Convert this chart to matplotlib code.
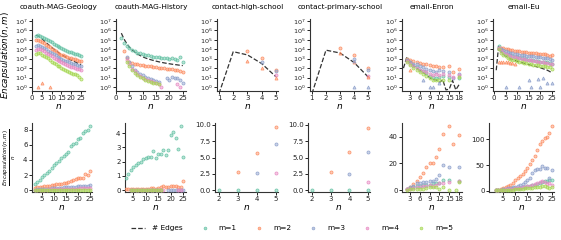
import numpy as np
import matplotlib
matplotlib.use("Agg")
import matplotlib.pyplot as plt
from matplotlib.lines import Line2D
from matplotlib.colors import to_rgba

nan = np.nan
COLORS = ['#66c2a5', '#fc8d62', '#8da0cb', '#e78ac3', '#a6d854']
titles = ["coauth-MAG-Geology", "coauth-MAG-History", "contact-high-school",
          "contact-primary-school", "email-Enron", "email-Eu"]
legend_labels = ["# Edges", "m=1", "m=2", "m=3", "m=4", "m=5"]

# ---------------- coauth-MAG-Geology ----------------
geo_n = list(range(2, 26))
geo_edges = [3e5, 2.6e5, 1.9e5, 1.3e5, 8.5e4, 5.5e4, 3.6e4, 2.4e4, 1.6e4, 1.1e4, 7.5e3, 5.2e3,
             3.7e3, 2.7e3, 2e3, 1.5e3, 1.15e3, 900, 700, 560, 450, 360, 290, 240]
geo_top = [
    [2.4e5, 2.9e5, 2.7e5, 2.2e5, 1.7e5, 1.27e5, 9.4e4, 7.1e4, 5.3e4, 4e4, 2.9e4, 2.2e4,
     1.7e4, 1.3e4, 1e4, 8.8e3, 7e3, 5.7e3, 4.7e3, 3.8e3, 3.4e3, 2.8e3, 2.3e3, 2e3],
    [9e4, 9.1e4, 7.6e4, 5.9e4, 4.3e4, 3e4, 2.2e4, 1.6e4, 1.1e4, 8.3e3, 6e3, 4.4e3,
     3.5e3, 2.7e3, 2.2e3, 1.8e3, 1.5e3, 1.3e3, 1.1e3, 870, 990, 700, 600, 600],
    [2.4e4, 2.6e4, 2.3e4, 1.8e4, 1.4e4, 9.9e3, 7.2e3, 5.3e3, 4e3, 3e3, 2.25e3, 1.66e3,
     1.3e3, 1.03e3, 800, 630, 520, 420, 350, 280, 250, 216, 174, 168],
    [9e3, 1e4, 9.5e3, 7.8e3, 6e3, 4.4e3, 3.2e3, 2.4e3, 1.8e3, 1.3e3, 980, 730,
     555, 430, 340, 270, 220, 180, 147, 123, 104, 86, 73, 60],
    [3e3, 3.9e3, 3.8e3, 2.6e3, 2.1e3, 1.4e3, 1.1e3, 720, 480, 385, 260, 180,
     150, 108, 80, 60, 52, 40, 32, 25, 22, 18, 12, 7],
]
geo_bot = [
    [0.8, 1.1, 1.4, 1.7, 2.0, 2.3, 2.6, 2.95, 3.3, 3.6, 3.9, 4.25, 4.55, 4.85, 5.0, 5.85,
     6.05, 6.3, 6.75, 6.85, 7.55, 7.9, 7.95, 8.5],
    [0.3, 0.35, 0.4, 0.45, 0.5, 0.55, 0.6, 0.65, 0.7, 0.75, 0.8, 0.85, 0.95, 1.0, 1.1, 1.2,
     1.3, 1.45, 1.55, 1.6, 1.55, 2.2, 1.95, 2.5],
    [0.08, 0.1, 0.12, 0.14, 0.16, 0.18, 0.2, 0.22, 0.25, 0.27, 0.3, 0.32, 0.35, 0.38, 0.4,
     0.42, 0.45, 0.47, 0.5, 0.5, 0.55, 0.6, 0.6, 0.7],
    [0.03, 0.04, 0.05, 0.06, 0.07, 0.08, 0.09, 0.1, 0.11, 0.12, 0.13, 0.14, 0.15, 0.16, 0.17,
     0.18, 0.19, 0.2, 0.21, 0.22, 0.23, 0.24, 0.25, 0.25],
    [0.01, 0.015, 0.02, 0.02, 0.025, 0.025, 0.03, 0.03, 0.03, 0.035, 0.035, 0.035, 0.04, 0.04,
     0.04, 0.04, 0.045, 0.045, 0.045, 0.045, 0.05, 0.05, 0.05, 0.03],
]
geo_extra_n = [3, 5, 9]
geo_extra_m = [2, 2, 2]
geo_extra_v = [1, 2.5, 1]

# ---------------- coauth-MAG-History ----------------
his_n = list(range(2, 26))
his_edges = [5e5, 1.2e5, 4e4, 1.7e4, 8.5e3, 5e3, 3.2e3, 2.2e3, 1.6e3, 1.2e3, 950, 780,
             650, 550, 470, 410, 360, 320, 290, 260, 240, 220, 200, 185]
his_top = [
    [1.6e5, 5e4, 2.2e4, 1.3e4, 8e3, 6e3, 4.5e3, 3.6e3, 3e3, 2.6e3, 2.2e3, 2e3, 1.7e3, 1.5e3,
     1.4e3, 1.3e3, 1.2e3, 1.1e3, 1e3, 1.1e3, 900, 700, 1.5e3, 400],
    [nan, 6e3, 1.2e3, 450, 350, 300, 250, 220, 200, 180, 160, 150, 140, 130, 110, 100, 95,
     90, 80, 75, 70, 60, 50, 35],
    [nan, nan, 1.5e3, 400, 150, 70, 40, 25, 17, 12, 9, 7, 5.5, 4.5, 3.5, nan, nan, 10, 6,
     12, 8, 9, 5, 3],
    [nan, nan, 800, 250, 90, 45, 25, 15, 10, 7, 5, 4, 3.2, 2.5, 2, 1, nan, nan, nan, nan,
     nan, 2, 1, nan],
    [nan, nan, 500, 150, 60, 30, 18, 12, 8, 6, 4.5, 3.5, 3, 2.5, 2, nan, nan, nan, nan, nan,
     nan, nan, nan, nan],
]
his_bot = [
    [0.84, 1.15, 1.4, 1.6, 1.8, 1.9, 2.0, 2.2, 2.25, 2.35, 2.3, 2.75, 2.25, 2.5, 2.5, 2.8,
     2.45, 2.8, 3.85, 4.1, 3.65, 2.9, 4.5, 2.35],
    [0.12, 0.1, 0.1, 0.1, 0.1, 0.1, 0.1, 0.12, 0.12, 0.12, 0.15, 0.15, 0.12, 0.15, 0.2, 0.3,
     0.25, 0.25, 0.3, 0.3, 0.3, 0.25, 0.2, 0.65],
    [nan, nan, 0.05, 0.04, 0.03, 0.03, 0.02, 0.02, 0.02, 0.02, 0.02, 0.02, 0.02, 0.02, 0.02,
     nan, nan, 0.04, 0.03, 0.05, 0.04, 0.05, 0.03, 0.02],
    [nan, nan, 0.03, 0.02, 0.02, 0.02, 0.01, 0.01, 0.01, 0.01, 0.01, 0.01, 0.01, 0.01, 0.01,
     0.01, nan, nan, nan, nan, nan, 0.01, 0.01, nan],
    [nan, nan, 0.02, 0.01, 0.01, 0.01, 0.01, 0.01, 0.01, 0.01, 0.01, 0.01, 0.01, 0.01, 0.01,
     nan, nan, nan, nan, nan, nan, nan, nan, nan],
]
his_extra_n = []
his_extra_m = []
his_extra_v = []

# ---------------- contact-high-school ----------------
chs_edge_n = [1, 2, 3, 4, 5]
chs_edges = [0.2, 5.5e3, 2.5e3, 300, 12]
chs_n = [2, 3, 4, 5]
chs_top = [
    [nan, nan, nan, nan],
    [nan, 6e3, 1.2e3, 70],
    [nan, nan, 500, 50],
    [nan, nan, nan, 20],
    [nan, nan, nan, nan],
]
chs_bot = [
    [0, 0, 0, 0],
    [nan, 2.8, 5.75, 9.7],
    [nan, nan, 2.65, 7.1],
    [nan, nan, nan, 2.65],
    [nan, nan, nan, nan],
]
chs_extra_n = [3, 4, 5]
chs_extra_m = [2, 2, 2]
chs_extra_v = [600, 100, 9]

# ---------------- contact-primary-school ----------------
cps_edge_n = [1, 2, 3, 4, 5]
cps_edges = [0.2, 8e3, 4e3, 400, 12]
cps_n = [2, 3, 4, 5]
cps_top = [
    [nan, nan, nan, nan],
    [nan, 1.5e4, 2.5e3, 100],
    [nan, nan, 900, 60],
    [nan, nan, nan, 14],
    [nan, nan, nan, nan],
]
cps_bot = [
    [0, 0, 0, 0],
    [nan, 2.8, 5.85, 9.5],
    [nan, nan, 2.45, 5.9],
    [nan, nan, nan, 1.2],
    [nan, nan, nan, nan],
]
cps_extra_n = [3, 4, 4, 4, 5, 5]
cps_extra_m = [2, 2, 3, 3, 3, 2]
cps_extra_v = [4e3, 500, 600, 1, 1, 12]

# ---------------- email-Enron ----------------
enr_edge_n = list(range(1, 19))
enr_edges = [100, 1.4e3, 400, 200, 100, 60, 35, 20, 10, 6, 6, 3, 6, 0.5, 0.6, 5, 0.5, 1.8]
enr_n = list(range(2, 19))
enr_top = [
    [1e3, 400, 200, 120, 70, 45, 30, 15, 12, 10, 12, 15, nan, 12, nan, nan, 10],
    [900, 800, 600, 450, 350, 300, 250, 200, 150, 180, 120, 130, nan, 150, 40, nan, 90],
    [800, 500, 300, 250, 180, 120, 90, 60, 45, 40, 60, 50, nan, 40, 10, nan, 25],
    [600, 300, 150, 100, 60, 45, 35, 25, 18, 22, 18, 25, nan, 20, 12, nan, 18],
    [500, 200, 100, 60, 40, 25, 15, 8, 5, 6, 6, 6, nan, 6, nan, nan, 12],
]
enr_bot = [
    [1, 1.5, 2, 3, 3, 3.5, 4, 4, 5, 5, 5, 7.5, nan, 7.5, nan, nan, 7],
    [1.0, 2.2, 4.5, 7.0, 10, 12.5, 17.5, 20, 20.5, 25, 30.5, 42, nan, 48, 34.5, nan, 41],
    [1, 2, 3, 5, 5, 6, 6, 7, 7, 8, 11, 18.5, nan, 17, nan, nan, 17.5],
    [0.5, 1, 1.5, 2, 2, 3, 3, 4, 3, 4, 5, 5, nan, 6, nan, nan, 7],
    [0.3, 0.5, 1, 1, 1, 1, 1.5, 2, 2, 2, 1, 2, nan, 0, nan, 0, 6],
]
enr_extra_n = [3, 7, 9, 10, 12]
enr_extra_m = [2, 3, 3, 3, 3]
enr_extra_v = [70, 6, 1, 1, 3]

# ---------------- email-Eu ----------------
eu_edge_n = list(range(1, 26))
eu_edges = [60, 2e4, 6e3, 3e3, 2e3, 1.4e3, 1e3, 800, 650, 550, 450, 380, 320, 280, 240, 200,
            170, 150, 130, 110, 90, 75, 60, 45, 30]
eu_n = list(range(2, 26))
eu_top = [
    [2e4, 8e3, 5e3, 3.5e3, 2.8e3, 2.2e3, 1.9e3, 1.6e3, 1.4e3, 1.2e3, 1.1e3, 1e3, 900, 800,
     750, 700, 600, 550, 500, 450, 450, 400, 350, 300],
    [1.5e4, 1.3e4, 1.2e4, 1.1e4, 1e4, 9e3, 8e3, 7e3, 6.5e3, 6e3, 5.5e3, 5e3, 4.8e3, 4.5e3,
     4.2e3, 4e3, 3.8e3, 3.5e3, 3.3e3, 3e3, 2.8e3, 2.5e3, 2e3, 2.2e3],
    [1.5e4, 1e4, 8e3, 6.5e3, 5.5e3, 4.5e3, 4e3, 3.5e3, 3e3, 2.7e3, 2.5e3, 2.3e3, 2.1e3, 2e3,
     1.9e3, 1.8e3, 1.6e3, 1.5e3, 1.4e3, 1.3e3, 1.2e3, 1.1e3, 1e3, 700],
    [1.2e4, 6e3, 4e3, 3e3, 2.3e3, 1.9e3, 1.6e3, 1.4e3, 1.2e3, 1.1e3, 1e3, 900, 800, 700,
     650, 600, 550, 500, 450, 400, 380, 350, 300, 250],
    [1e4, 4e3, 2.5e3, 1.8e3, 1.3e3, 1e3, 800, 650, 550, 480, 420, 380, 340, 300, 270, 240,
     220, 200, 180, 160, 150, 140, 130, 90],
]
eu_bot = [
    [1, 1.5, 2, 2.5, 3, 3.5, 4, 4.5, 5, 5.5, 6, 7, 8, 9, 10, 11, 12, 13, 15, 17, 18, 19, 20, 21],
    [1, 2, 3, 5, 7, 9, 12, 15, 20, 24, 28, 33, 38, 45, 52, 60, 67, 80, 90, 97, 103, 105, 112, 125],
    [1, 2, 2, 3, 4, 5, 6, 7, 8, 10, 12, 14, 16, 20, 25, 35, 41, 42, 43, 48, 44, 44, 25, 40],
    [0.5, 1, 1.5, 2, 2.5, 3, 3.5, 4, 4.5, 5, 6, 7, 8, 9, 10, 11, 13, 15, 17, 18, 16, 14, 15, 12],
    [0.5, 0.8, 1, 1.2, 1.5, 1.8, 2, 2.2, 2.5, 3, 3.5, 4, 4.5, 5, 5.5, 6, 7, 8, 8, 9, 9, 8, 5, 7],
]
eu_extra_n = [2, 3, 4, 5, 6, 7, 8, 9, 5, 11, 15, 16, 19, 20, 21, 23, 25]
eu_extra_m = [2, 2, 2, 2, 2, 2, 2, 2, 3, 3, 3, 3, 3, 3, 3, 3, 3]
eu_extra_v = [400, 500, 450, 400, 400, 350, 350, 300, 1, 1, 5, 1, 7, 1, 10, 3, 3]

datasets = [
    (geo_n, geo_n, geo_edges, geo_top, geo_bot, geo_extra_n, geo_extra_m, geo_extra_v),
    (his_n, his_n, his_edges, his_top, his_bot, his_extra_n, his_extra_m, his_extra_v),
    (chs_edge_n, chs_n, chs_edges, chs_top, chs_bot, chs_extra_n, chs_extra_m, chs_extra_v),
    (cps_edge_n, cps_n, cps_edges, cps_top, cps_bot, cps_extra_n, cps_extra_m, cps_extra_v),
    (enr_edge_n, enr_n, enr_edges, enr_top, enr_bot, enr_extra_n, enr_extra_m, enr_extra_v),
    (eu_edge_n, eu_n, eu_edges, eu_top, eu_bot, eu_extra_n, eu_extra_m, eu_extra_v),
]

# axis settings (per column)
top_xticks = [[0, 5, 10, 15, 20, 25], [0, 5, 10, 15, 20, 25], [1, 2, 3, 4, 5],
              [1, 2, 3, 4, 5], [3, 6, 9, 12, 15, 18], [0, 5, 10, 15, 20, 25]]
top_xlim = [(0, 27), (0, 26.2), (0.86, 5.14), (0.86, 5.14), (0.55, 18.9), (-0.4, 25.9)]
bot_xticks = [[5, 10, 15, 20, 25], [5, 10, 15, 20, 25], [2, 3, 4, 5], [2, 3, 4, 5],
              [3, 6, 9, 12, 15, 18], [5, 10, 15, 20, 25]]
bot_xlim = [(0.85, 25.8), (1.8, 26.2), (1.79, 5.1), (1.79, 5.1), (0.55, 18.9), (-0.8, 25.9)]
bot_yticks = [[0, 2, 4, 6, 8], [0, 1, 2, 3, 4], [0, 2.5, 5, 7.5, 10], [0, 2.5, 5, 7.5, 10],
              [0, 20, 40], [0, 50, 100]]
bot_ylim = [(-0.25, 8.9), (-0.12, 4.7), (-0.26, 10.3), (-0.26, 10.3), (-1.5, 50.3), (-2.5, 131.7)]

W, H = 561, 240
fig = plt.figure(figsize=(W / 100, H / 100), dpi=100)
top_left = [32, 116, 217, 310, 402, 493]
top_right = [85, 186, 278, 370, 462, 554]
bot_left = [32, 125, 215, 308, 402, 489]
bot_right = [92, 186, 278, 370, 462, 554]
top_y0, top_y1 = 19, 91
bot_y0, bot_y1 = 123, 192

TICK_FS = 5
TITLE_FS = 5.3

def style(ax):
    for s in ['top', 'right']:
        ax.spines[s].set_visible(False)
    for s in ['left', 'bottom']:
        ax.spines[s].set_linewidth(0.8)
        ax.spines[s].set_color('#333333')
    ax.tick_params(labelsize=TICK_FS, length=2, width=0.7, pad=1.2, colors='#222222')

def mk(ax, x, y, c, marker='o'):
    ax.plot(x, y, linestyle='none', marker=marker, ms=2.2, mfc=to_rgba(c, 0.45),
            mec=to_rgba(c, 0.9), mew=0.55, zorder=3)

for i, (en, pn, edges, top, bot, exn, exm, exv) in enumerate(datasets):
    axt = fig.add_axes([top_left[i] / W, (H - top_y1) / H, (top_right[i] - top_left[i]) / W,
                        (top_y1 - top_y0) / H])
    axb = fig.add_axes([bot_left[i] / W, (H - bot_y1) / H, (bot_right[i] - bot_left[i]) / W,
                        (bot_y1 - bot_y0) / H])
    style(axt)
    style(axb)
    axt.set_yscale('log')
    axt.plot(en, edges, ls='--', color='#333333', lw=0.9, zorder=2)
    for m in range(5):
        mk(axt, pn, top[m], COLORS[m])
        mk(axb, pn, bot[m], COLORS[m])
    for xn, mm, vv in zip(exn, exm, exv):
        mk(axt, [xn], [vv], COLORS[mm - 1], marker='^')
    axt.set_ylim(10 ** -0.42, 10 ** 7.2)
    axt.set_yticks([10.0 ** k for k in range(8)])
    axt.minorticks_off()
    axt.tick_params(axis='y', labelsize=4.6)
    axt.set_xticks(top_xticks[i])
    axt.set_xlim(*top_xlim[i])
    axt.set_title(titles[i], fontsize=TITLE_FS, pad=7)
    axt.set_xlabel('$n$', fontsize=6.5, labelpad=0.5)
    axb.set_xticks(bot_xticks[i])
    axb.set_xlim(*bot_xlim[i])
    axb.set_yticks(bot_yticks[i])
    axb.set_ylim(*bot_ylim[i])
    axb.set_xlabel('$n$', fontsize=6.5, labelpad=0.5)
    if i == 0:
        axt.set_ylabel('$Encapsulation(n,m)$', fontsize=6.3)
        axt.yaxis.set_label_coords((12 - 32) / 53, 0.5)
        axb.set_ylabel(r'$\frac{Encapsulation(n,m)}{n}$', fontsize=5.8)
        axb.yaxis.set_label_coords((18 - 32) / 60, 0.5)

handles = [Line2D([], [], ls='--', color='#333333', lw=0.9)]
for c in COLORS:
    handles.append(Line2D([], [], ls='none', marker='o', ms=2.0, mfc=to_rgba(c, 0.6),
                          mec=to_rgba(c, 0.9), mew=0.5))
fig.legend(handles, legend_labels, loc='center', bbox_to_anchor=(292 / W, 12 / H), ncol=6,
           frameon=False, fontsize=5.3, handlelength=2.0, columnspacing=2.0, handletextpad=0.9)

fig.savefig('out.png', dpi=100)
